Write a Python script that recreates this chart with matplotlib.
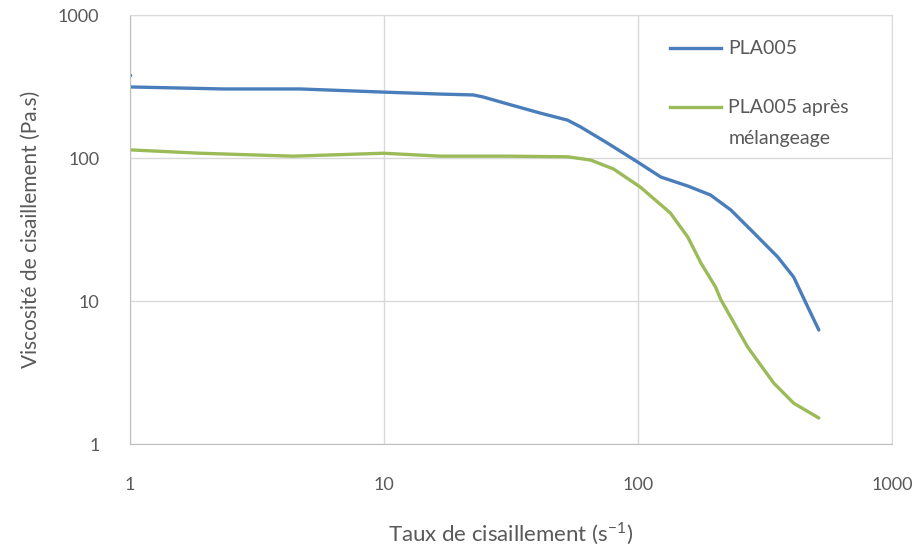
import matplotlib
matplotlib.use('Agg')
import matplotlib.pyplot as plt
from matplotlib.ticker import FixedLocator, NullLocator

# Données
taux_pla = [1.0, 2.33, 4.68, 9.94, 16.7, 22.5, 24.6, 30.6, 41.3, 52.8, 59.4, 75.9, 99.6,
            123, 157, 193, 232, 286, 355, 410, 466, 515]
visco_pla = [314, 304, 304, 289, 280, 276, 267, 239, 206, 184, 165, 127, 93.8,
             73.6, 63.7, 55.1, 43.3, 29.9, 20.3, 14.7, 9.08, 6.27]

# petit point bleu isolé au bord gauche
taux_pt = [1.0]
visco_pt = [380]

taux_mel = [1.0, 1.89, 4.39, 9.94, 16.7, 30.6, 52.8, 65.1, 80.1, 102, 134, 157, 177,
            202, 212, 270, 342, 410, 515]
visco_mel = [114, 108, 103, 108, 103, 103, 102, 96.8, 83.8, 62.7, 41.3, 28.0, 18.4,
             12.5, 10.2, 4.77, 2.67, 1.93, 1.52]

ticks = [1, 10, 100, 1000]
tick_labels = ['1', '10', '100', '1000']

plt.rcParams['font.family'] = ['Lato', 'DejaVu Sans']
gris = '#595959'
bleu = '#4a7ebb'
vert = '#9bbb59'

fig = plt.figure(figsize=(9.2, 5.5), dpi=100)
ax = fig.add_axes([0.1413, 0.1927, 0.8283, 0.78])

ax.plot(taux_pla, visco_pla, color=bleu, lw=2.4, solid_capstyle='round', solid_joinstyle='round')
ax.plot(taux_mel, visco_mel, color=vert, lw=2.4, solid_capstyle='round', solid_joinstyle='round')
ax.plot(taux_pt, visco_pt, 'o', color=bleu, ms=2.5, mec='none')

ax.set_xscale('log')
ax.set_yscale('log')
ax.set_xlim(1, 1000)
ax.set_ylim(1, 1000)
ax.xaxis.set_major_locator(FixedLocator(ticks))
ax.yaxis.set_major_locator(FixedLocator(ticks))
ax.set_xticklabels(tick_labels)
ax.set_yticklabels(tick_labels)
ax.xaxis.set_minor_locator(NullLocator())
ax.yaxis.set_minor_locator(NullLocator())
ax.tick_params(length=0, labelsize=13, colors=gris)
ax.tick_params(axis='x', pad=24)
ax.tick_params(axis='y', pad=22)

ax.grid(True, color='#d9d9d9', lw=1)
for s in ax.spines.values():
    s.set_color('#d9d9d9')
ax.spines['left'].set_color('#bfbfbf')
ax.spines['bottom'].set_color('#bfbfbf')

ax.set_xlabel('Taux de cisaillement (s$^{\\mathregular{-1}}$)', fontsize=16, color=gris, labelpad=20)
ax.set_ylabel('Viscosité de cisaillement (Pa.s)', fontsize=15, color=gris, labelpad=12)

# légende dessinée à la main (style Excel)
ax.plot([0.709, 0.776], [0.922, 0.922], transform=ax.transAxes, color=bleu, lw=2.4)
ax.text(0.785, 0.922, 'PLA005', transform=ax.transAxes, fontsize=14, color=gris, va='center')
ax.plot([0.709, 0.776], [0.785, 0.785], transform=ax.transAxes, color=vert, lw=2.4)
ax.text(0.785, 0.785, 'PLA005 après', transform=ax.transAxes, fontsize=14, color=gris, va='center')
ax.text(0.785, 0.712, 'mélangeage', transform=ax.transAxes, fontsize=14, color=gris, va='center')

fig.savefig('out.png', dpi=100)
